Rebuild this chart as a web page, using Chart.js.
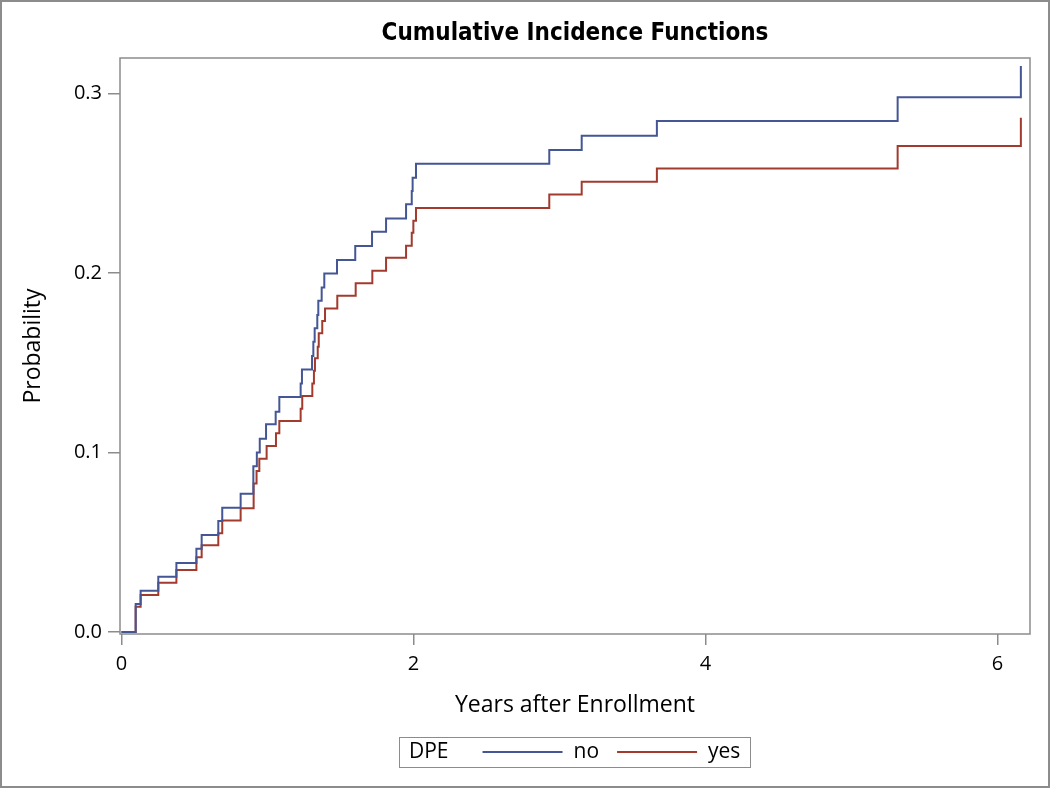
<!DOCTYPE html>
<html>
<head>
<meta charset="utf-8">
<title>Cumulative Incidence Functions</title>
<script src="https://cdn.jsdelivr.net/npm/chart.js@4"></script>
<style>
  html, body { margin: 0; padding: 0; background: #fff; }
  canvas { display: block; }
</style>
</head>
<body>
<canvas id="grafico" width="1050" height="788"></canvas>
<script>
// tiempos de evento (años) y CIF por grupo DPE
const timesNo = [0, 0.097, 0.131, 0.252, 0.376, 0.513, 0.549, 0.663, 0.690, 0.816,
  0.903, 0.927, 0.947, 0.990, 1.056, 1.081, 1.227, 1.236, 1.305, 1.314,
  1.323, 1.341, 1.348, 1.371, 1.389, 1.476, 1.601, 1.716, 1.812, 1.949,
  1.988, 1.994, 2.017, 2.930, 3.152, 3.667, 5.316, 6.160];
const cifNo = [0, 0.0156, 0.0230, 0.0308, 0.0384, 0.0464, 0.0540, 0.0618, 0.0693, 0.0770,
  0.0923, 0.1000, 0.1077, 0.1157, 0.1227, 0.1310, 0.1385, 0.1463, 0.1538, 0.1617,
  0.1692, 0.1766, 0.1846, 0.1920, 0.1998, 0.2072, 0.2150, 0.2230, 0.2304, 0.2383,
  0.2457, 0.2531, 0.2609, 0.2686, 0.2765, 0.2847, 0.2980, 0.3153];

const timesYes = [0, 0.097, 0.131, 0.252, 0.376, 0.513, 0.549, 0.663, 0.690, 0.816,
  0.905, 0.925, 0.944, 0.994, 1.058, 1.081, 1.227, 1.238, 1.307, 1.318,
  1.325, 1.344, 1.351, 1.375, 1.394, 1.478, 1.604, 1.718, 1.812, 1.949,
  1.988, 1.999, 2.017, 2.930, 3.152, 3.667, 5.316, 6.160];
const cifYes = [0, 0.0141, 0.0206, 0.0275, 0.0345, 0.0416, 0.0483, 0.0550, 0.0622, 0.0689,
  0.0828, 0.0897, 0.0966, 0.1036, 0.1107, 0.1175, 0.1244, 0.1315, 0.1385, 0.1456,
  0.1525, 0.1590, 0.1664, 0.1733, 0.1803, 0.1874, 0.1943, 0.2013, 0.2085, 0.2152,
  0.2225, 0.2291, 0.2362, 0.2437, 0.2509, 0.2583, 0.2708, 0.2865];

const groupLabels = ['no', 'yes'];
const xTicks = [0, 2, 4, 6];
const yTicks = [0, 0.1, 0.2, 0.3];

const titleText = 'Cumulative Incidence Functions';
const legendTitle = 'DPE';
const colorNo = '#445694';
const colorYes = '#A23A2E';
const frameColor = '#8c8c8c';
const textFont = '"Open Sans", "DejaVu Sans", sans-serif';

function toPoints(xs, ys) {
  return xs.map((x, i) => ({ x: x, y: ys[i] }));
}

// titulo, marco, leyenda y borde exterior
const decoraciones = {
  id: 'decoraciones',
  afterDraw(chart) {
    const ctx = chart.ctx;
    const a = chart.chartArea;
    const cx = (a.left + a.right) / 2;
    ctx.save();

    ctx.strokeStyle = frameColor;
    ctx.lineWidth = 1.5;
    ctx.strokeRect(a.left, a.top, a.right - a.left, a.bottom - a.top);

    ctx.lineWidth = 2;
    ctx.strokeRect(1, 1, chart.width - 2, chart.height - 2);

    ctx.fillStyle = '#000';
    ctx.font = 'bold 24px "DejaVu Sans Condensed", "DejaVu Sans", sans-serif';
    ctx.textAlign = 'center';
    ctx.textBaseline = 'middle';
    ctx.fillText(titleText, cx, 34);

    // leyenda
    ctx.font = '21px ' + textFont;
    const pad = 10, lineLen = 80;
    const wTitle = ctx.measureText(legendTitle).width;
    const items = chart.data.datasets.map(ds => ({
      text: ds.label, color: ds.borderColor, w: ctx.measureText(ds.label).width
    }));
    let total = pad + wTitle + 34;
    items.forEach((it, i) => { total += lineLen + 11 + it.w + (i < items.length - 1 ? 18 : 0); });
    total += pad;
    const top = 737, h = 30, midY = top + h / 2;
    let x = Math.round(cx - total / 2);
    ctx.strokeStyle = frameColor;
    ctx.lineWidth = 1;
    ctx.strokeRect(x + 0.5, top + 0.5, Math.round(total), h);
    ctx.textAlign = 'left';
    ctx.fillStyle = '#000';
    ctx.fillText(legendTitle, x + pad, midY);
    x += pad + wTitle + 34;
    items.forEach((it, i) => {
      ctx.strokeStyle = it.color;
      ctx.lineWidth = 2;
      ctx.beginPath();
      ctx.moveTo(x, midY);
      ctx.lineTo(x + lineLen, midY);
      ctx.stroke();
      x += lineLen + 11;
      ctx.fillText(it.text, x, midY);
      x += it.w + 18;
    });
    ctx.restore();
  }
};

new Chart(document.getElementById('grafico'), {
  type: 'line',
  data: {
    datasets: [{
      label: groupLabels[0],
      data: toPoints(timesNo, cifNo),
      borderColor: colorNo,
      borderWidth: 2,
      stepped: 'before',
      pointRadius: 0,
      fill: false
    }, {
      label: groupLabels[1],
      data: toPoints(timesYes, cifYes),
      borderColor: colorYes,
      borderWidth: 2,
      stepped: 'before',
      pointRadius: 0,
      fill: false
    }]
  },
  options: {
    responsive: false,
    animation: false,
    devicePixelRatio: 1,
    layout: { padding: { top: 58, right: 20, bottom: 0, left: 0 } },
    plugins: {
      legend: { display: false },
      title: { display: false },
      tooltip: { enabled: false }
    },
    scales: {
      x: {
        type: 'linear',
        min: -0.0103,
        max: 6.2226,
        afterFit(scale) { scale.height = 154; },
        afterBuildTicks(scale) { scale.ticks = xTicks.map(v => ({ value: v })); },
        grid: { drawOnChartArea: false, drawTicks: true, tickLength: 11, color: frameColor, lineWidth: 1.5 },
        border: { display: false },
        ticks: {
          padding: 7,
          color: '#000',
          font: { family: textFont, size: 20 },
          callback: v => String(v)
        },
        title: {
          display: true,
          text: 'Years after Enrollment',
          color: '#000',
          font: { family: textFont, size: 23 },
          padding: { top: 0, bottom: 69 }
        }
      },
      y: {
        min: -0.0011,
        max: 0.3198,
        afterFit(scale) { scale.width = 120; },
        afterBuildTicks(scale) { scale.ticks = yTicks.map(v => ({ value: v })); },
        grid: { drawOnChartArea: false, drawTicks: true, tickLength: 12, color: frameColor, lineWidth: 1.5 },
        border: { display: false },
        ticks: {
          padding: 6,
          color: '#000',
          font: { family: textFont, size: 20 },
          callback: v => v.toFixed(1)
        },
        title: {
          display: true,
          text: 'Probability',
          color: '#000',
          font: { family: textFont, size: 23 },
          padding: { top: 20, bottom: 0 }
        }
      }
    }
  },
  plugins: [decoraciones]
});
</script>
</body>
</html>
